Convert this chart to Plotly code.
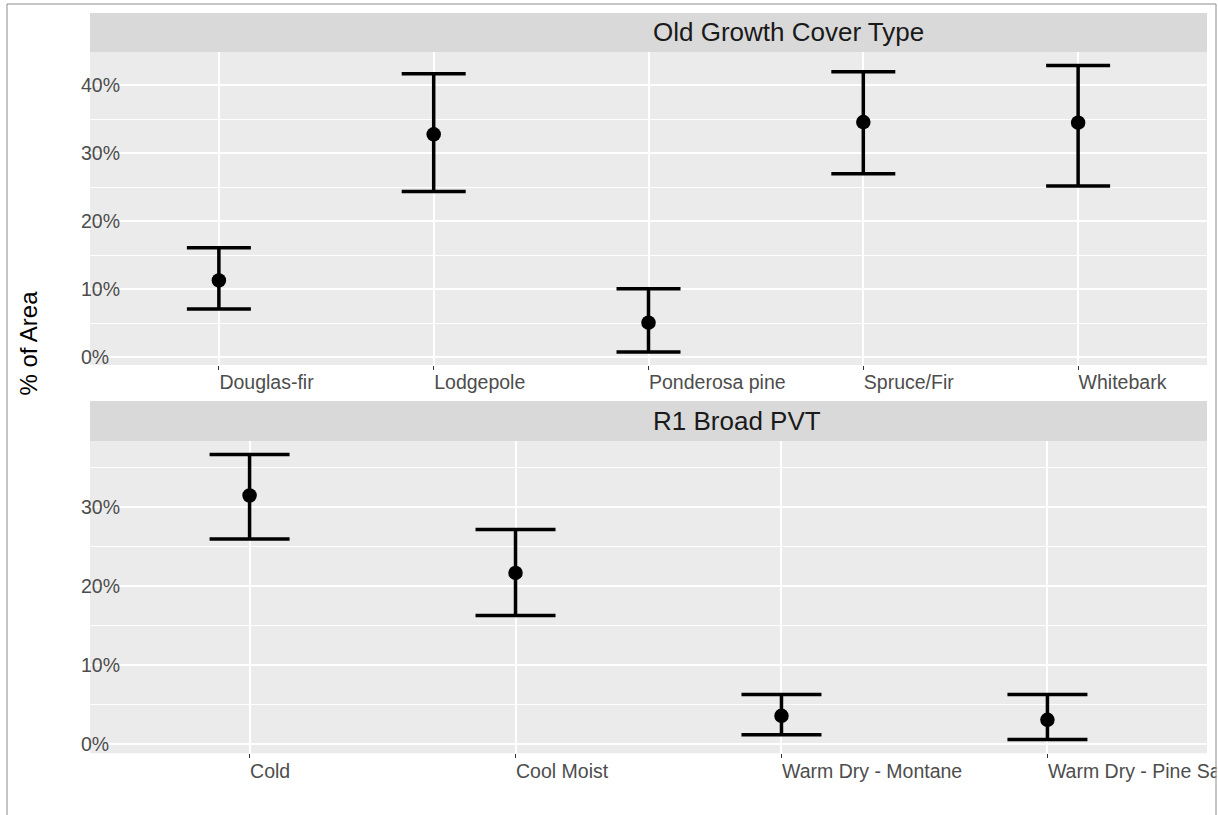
import plotly.graph_objects as go

# Old growth share by cover type (percent of area, estimate with interval)
cover_types = ["Douglas-fir", "Lodgepole", "Ponderosa pine", "Spruce/Fir", "Whitebark"]
cover_est = [11.3, 32.8, 5.1, 34.6, 34.5]
cover_lo = [7.1, 24.4, 0.8, 27.0, 25.2]
cover_hi = [16.1, 41.7, 10.1, 42.0, 42.9]

# Old growth share by R1 broad potential vegetation type
pvt_types = ["Cold", "Cool Moist", "Warm Dry - Montane", "Warm Dry - Pine Savanna"]
pvt_est = [31.5, 21.7, 3.6, 3.1]
pvt_lo = [26.0, 16.3, 1.2, 0.6]
pvt_hi = [36.7, 27.2, 6.3, 6.3]

y_ticks = [0, 10, 20, 30, 40]
y_tick_text = ["0%", "10%", "20%", "30%", "40%"]

W, H = 1218, 815


def px_x(p):
    return p / W


def px_y(p):
    return 1 - p / H


def err_trace(cats, est, lo, hi, xa, ya, cap):
    return go.Scatter(
        x=cats, y=est, xaxis=xa, yaxis=ya, mode="markers",
        marker=dict(color="black", size=14.5),
        error_y=dict(type="data", symmetric=False,
                     array=[h - e for h, e in zip(hi, est)],
                     arrayminus=[e - l for e, l in zip(est, lo)],
                     color="black", thickness=3.5, width=cap),
        showlegend=False, hoverinfo="skip",
    )


fig = go.Figure()
fig.add_trace(err_trace(cover_types, cover_est, cover_lo, cover_hi, "x", "y", 32))
fig.add_trace(err_trace(pvt_types, pvt_est, pvt_lo, pvt_hi, "x2", "y2", 40))

axis_font = dict(family="Liberation Sans, Arial, sans-serif", size=19.5, color="#4D4D4D")

xcommon = dict(
    type="category", showgrid=True, gridcolor="white", gridwidth=1.6,
    ticks="outside", ticklen=4, tickcolor="#333333", tickwidth=1,
    ticklabelposition="outside right", tickfont=axis_font,
    zeroline=False, showline=False, automargin=False, fixedrange=True,
)
ycommon = dict(
    tickvals=y_ticks, ticktext=y_tick_text, showgrid=True, gridcolor="white",
    gridwidth=1.6, ticks="", ticklabelposition="inside", ticklabelstandoff=-12,
    ticklabeloverflow="allow",
    tickfont=axis_font, zeroline=False, showline=False, automargin=False,
    minor=dict(dtick=5, tick0=0, showgrid=True, gridcolor="white", gridwidth=0.8),
    fixedrange=True,
)

fig.update_layout(
    width=W, height=H,
    margin=dict(l=0, r=0, t=0, b=0),
    paper_bgcolor="white", plot_bgcolor="#EBEBEB",
    xaxis=dict(xcommon, domain=[px_x(90), px_x(1207)], anchor="y",
               range=[-0.6, len(cover_types) - 0.4]),
    yaxis=dict(ycommon, domain=[px_y(365), px_y(52)], anchor="x",
               range=[-1.13, 44.9]),
    xaxis2=dict(xcommon, domain=[px_x(90), px_x(1207)], anchor="y2",
                range=[-0.6, len(pvt_types) - 0.4]),
    yaxis2=dict(ycommon, domain=[px_y(753.3), px_y(441)], anchor="x2",
                range=[-1.14, 38.4]),
)

shapes = []
# facet strips
for top, bot in [(13, 52), (401, 441)]:
    shapes.append(dict(type="rect", xref="paper", yref="paper",
                       x0=px_x(90), x1=px_x(1207), y0=px_y(bot), y1=px_y(top),
                       fillcolor="#D9D9D9", line=dict(width=0), layer="below"))
# clip anything past the right frame edge
shapes.append(dict(type="rect", xref="paper", yref="paper",
                   x0=px_x(1216.5), x1=1.0, y0=0, y1=1,
                   fillcolor="white", line=dict(width=0), layer="above"))
# outer frame
frame = dict(color="#8C8C8C", width=1)
shapes.append(dict(type="line", xref="paper", yref="paper",
                   x0=px_x(7), x1=px_x(1216), y0=px_y(4), y1=px_y(4), line=frame, layer="above"))
shapes.append(dict(type="line", xref="paper", yref="paper",
                   x0=px_x(7), x1=px_x(7), y0=px_y(4), y1=0, line=frame, layer="above"))
shapes.append(dict(type="line", xref="paper", yref="paper",
                   x0=px_x(1216), x1=px_x(1216), y0=px_y(4), y1=0, line=frame, layer="above"))
fig.update_layout(shapes=shapes)

strip_font = dict(family="Liberation Sans, Arial, sans-serif", size=26, color="#1A1A1A")
annotations = [
    dict(text="Old Growth Cover Type", xref="paper", yref="paper",
         x=px_x(651), y=px_y(32.5), xanchor="left", yanchor="middle",
         showarrow=False, font=strip_font),
    dict(text="R1 Broad PVT", xref="paper", yref="paper",
         x=px_x(651), y=px_y(421), xanchor="left", yanchor="middle",
         showarrow=False, font=strip_font),
    dict(text="% of Area", xref="paper", yref="paper",
         x=px_x(28), y=px_y(398), xanchor="center", yanchor="bottom",
         textangle=-90, showarrow=False,
         font=dict(family="Liberation Sans, Arial, sans-serif", size=24, color="black")),
]
fig.update_layout(annotations=annotations)

fig.write_html("out.html")
